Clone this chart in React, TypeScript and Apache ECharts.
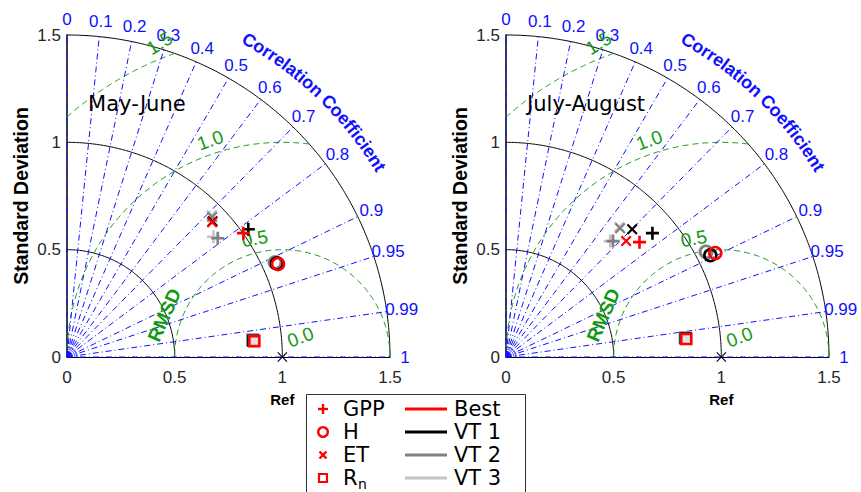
import React, { useEffect, useRef } from "react";
import * as echarts from "echarts";

// ---------- data ----------
const CORR_VALUES = [0, 0.1, 0.2, 0.3, 0.4, 0.5, 0.6, 0.7, 0.8, 0.9, 0.95, 0.99, 1];
const CORR_LABELS = ["0", "0.1", "0.2", "0.3", "0.4", "0.5", "0.6", "0.7", "0.8", "0.9", "0.95", "0.99", "1"];
const STD_ARC_RADII = [0.5, 1, 1.5];
const RMSD_RADII = [0.5, 1.0, 1.5];
const RMSD_LABELS = ["0.0", "0.5", "1.0", "1.5"];
const AXIS_MAX = 1.5;
const AXIS_INTERVAL = 0.5;
const VERSIONS = ["Best", "VT 1", "VT 2", "VT 3"];
const VERSION_COLORS = ["#ff0000", "#000000", "#808080", "#c4c4c4"];
const VARIABLES = ["GPP", "H", "ET", "Rn"];
const PANEL_TITLES = ["May-June", "July-August"];

// [x, y] positions (normalised std * corr, normalised std * sin), order: Best, VT 1, VT 2, VT 3
const MJ_GPP = [[0.819, 0.577], [0.842, 0.595], [0.700, 0.553], [0.680, 0.560]];
const MJ_H = [[0.980, 0.433], [0.975, 0.436], [0.967, 0.440], [0.964, 0.441]];
const MJ_ET = [[0.674, 0.628], [0.676, 0.632], [0.674, 0.652], [0.672, 0.660]];
const MJ_RN = [[0.870, 0.074], [0.866, 0.076], [0.862, 0.080], [0.860, 0.081]];
const JA_GPP = [[0.620, 0.535], [0.680, 0.577], [0.497, 0.540], [0.484, 0.540]];
const JA_H = [[0.972, 0.484], [0.949, 0.474], [0.930, 0.490], [0.926, 0.490]];
const JA_ET = [[0.558, 0.540], [0.586, 0.595], [0.530, 0.600], [0.526, 0.606]];
const JA_RN = [[0.837, 0.084], [0.835, 0.086], [0.832, 0.090], [0.830, 0.091]];

const PANEL_DATA = [
  [MJ_GPP, MJ_H, MJ_ET, MJ_RN],
  [JA_GPP, JA_H, JA_ET, JA_RN],
];

// ---------- style ----------
const BLUE = "#1010ff";
const GREEN = "#119911";
const TICK_FONT = "Liberation Sans";
const LEG_FONT = "DejaVu Sans";
const PLUS = "path://M4,0H6V4H10V6H6V10H4V6H0V4H4Z";
const CROSS = "path://M1.4,0L5,3.6L8.6,0L10,1.4L6.4,5L10,8.6L8.6,10L5,6.4L1.4,10L0,8.6L3.6,5L0,1.4Z";
const THIN_CROSS = "path://M0.8,0L5,4.2L9.2,0L10,0.8L5.8,5L10,9.2L9.2,10L5,5.8L0.8,10L0,9.2L4.2,5L0,0.8Z";
const GRID_LEFTS = [67, 506];
const GRID_TOP = 35;
const GRID_W = 323;
const GRID_H = 322;

function arcPts(cx: number, cy: number, R: number, a0: number, a1: number, n = 240) {
  const pts: number[][] = [];
  for (let i = 0; i <= n; i++) {
    const a = a0 + ((a1 - a0) * i) / n;
    pts.push([cx + R * Math.cos(a), cy + R * Math.sin(a)]);
  }
  return pts;
}

function measure(text: string, font: string) {
  const ctx = document.createElement("canvas").getContext("2d");
  if (!ctx) return text.length * 10;
  ctx.font = font;
  return ctx.measureText(text).width;
}

function lineSeries(idx: number, data: number[][], color: string, type: any, width = 1) {
  return {
    type: "line",
    xAxisIndex: idx,
    yAxisIndex: idx,
    data,
    symbol: "none",
    silent: true,
    clip: false,
    lineStyle: { color, width, type, opacity: 1 },
    z: 2,
  };
}

function textItem(pos: number[], text: string, style: any) {
  return {
    value: pos,
    label: { show: true, position: "inside", formatter: text, opacity: 1, ...style },
  };
}

function buildPanel(idx: number) {
  const series: any[] = [];
  STD_ARC_RADII.forEach((r) => series.push(lineSeries(idx, arcPts(0, 0, r, 0, Math.PI / 2), "#000", "solid", 1)));
  [0.012, 0.024, 0.036, 0.048].forEach((r) => series.push(lineSeries(idx, arcPts(0, 0, r, 0, Math.PI / 2, 30), BLUE, "solid", 0.8)));
  RMSD_RADII.forEach((R) => {
    const cMin = Math.max(-1, (AXIS_MAX * AXIS_MAX - 1 - R * R) / (2 * R));
    const phiStart = Math.acos(Math.min(1, cMin));
    const phiEnd = Math.acos(Math.max(-1, -1 / R));
    series.push(lineSeries(idx, arcPts(1, 0, R, phiStart, phiEnd), GREEN, [6, 4], 1));
  });
  CORR_VALUES.forEach((c) => {
    const a = Math.acos(c);
    series.push(lineSeries(idx, [[0, 0], [AXIS_MAX * Math.cos(a), AXIS_MAX * Math.sin(a)]], BLUE, [6, 3, 1, 3], 1));
  });

  const texts: any[] = [];
  CORR_VALUES.forEach((c, i) => {
    const a = Math.acos(c);
    texts.push(textItem([1.57 * Math.cos(a), 1.57 * Math.sin(a)], CORR_LABELS[i], { color: BLUE, fontSize: 17, fontFamily: TICK_FONT }));
  });
  const rmsdPos = [[1.084, 0.093], [0.872, 0.552], [0.665, 1.01], [0.43, 1.462]];
  const rmsdRot = [20, 10, 20, 32];
  RMSD_LABELS.forEach((t, i) =>
    texts.push(textItem(rmsdPos[i], t, { color: GREEN, fontSize: 19, fontFamily: TICK_FONT, rotate: rmsdRot[i] }))
  );
  texts.push(textItem([0.452, 0.195], "RMSD", { color: GREEN, fontSize: 19, fontWeight: "bold", fontFamily: TICK_FONT, rotate: 66 }));
  texts.push(textItem([1, -0.2], "Ref", { color: "#000", fontSize: 15, fontWeight: "bold", fontFamily: TICK_FONT }));
  texts.push(textItem([0.098, 1.18], PANEL_TITLES[idx], { color: "#000", fontSize: 21, fontFamily: LEG_FONT, align: "left" }));

  const curved = "Correlation Coefficient";
  const font = `bold 18px "${TICK_FONT}"`;
  const widths = curved.split("").map((ch) => measure(ch, font));
  const total = widths.reduce((s, w) => s + w, 0);
  const Rd = 1.7;
  const Rpx = Rd * (GRID_W / AXIS_MAX);
  const theta0 = (46 * Math.PI) / 180 + total / 2 / Rpx;
  let cum = 0;
  curved.split("").forEach((ch, i) => {
    const s = cum + widths[i] / 2;
    cum += widths[i];
    if (ch === " ") return;
    const th = theta0 - s / Rpx;
    texts.push(
      textItem([Rd * Math.cos(th), Rd * Math.sin(th)], ch, {
        color: BLUE,
        fontSize: 18,
        fontWeight: "bold",
        fontFamily: TICK_FONT,
        rotate: (th * 180) / Math.PI - 90,
      })
    );
  });

  series.push({
    type: "scatter",
    xAxisIndex: idx,
    yAxisIndex: idx,
    symbolSize: 0,
    itemStyle: { color: "rgba(0,0,0,0)", opacity: 1 },
    silent: true,
    clip: false,
    data: texts,
    z: 3,
  });

  series.push({
    type: "scatter",
    xAxisIndex: idx,
    yAxisIndex: idx,
    symbol: THIN_CROSS,
    symbolSize: 10,
    itemStyle: { color: "#000", opacity: 1 },
    clip: false,
    data: [[1, 0]],
    z: 5,
  });

  const vars = PANEL_DATA[idx];
  for (let v = VERSIONS.length - 1; v >= 0; v--) {
    const col = VERSION_COLORS[v];
    VARIABLES.forEach((name, k) => {
      const pt = vars[k][v];
      let s: any;
      if (name === "GPP") s = { symbol: PLUS, symbolSize: 13, itemStyle: { color: col, opacity: 1 } };
      else if (name === "ET") s = { symbol: CROSS, symbolSize: 11, itemStyle: { color: col, opacity: 1 } };
      else if (name === "H")
        s = { symbol: "circle", symbolSize: 12, itemStyle: { color: "rgba(255,255,255,0)", borderColor: col, borderWidth: 2.6, opacity: 1 } };
      else s = { symbol: "rect", symbolSize: 10, itemStyle: { color: "rgba(225,225,225,1)", borderColor: col, borderWidth: 2.6, opacity: 1 } };
      series.push({
        type: "scatter",
        name: `${name} ${VERSIONS[v]}`,
        xAxisIndex: idx,
        yAxisIndex: idx,
        clip: false,
        data: [pt],
        z: 10 + (VERSIONS.length - v),
        ...s,
      });
    });
  }
  return series;
}

function legendGraphic() {
  const els: any[] = [];
  const x0 = 306.5, y0 = 394.5;
  els.push({ type: "rect", shape: { x: x0, y: y0, width: 219, height: 110 }, style: { fill: "#fff", stroke: "#333", lineWidth: 1 }, z: 50 });
  const rows = [409, 432, 455, 478];
  const mx = 323;
  const red = "#ff0000";
  els.push({ type: "rect", shape: { x: mx - 5, y: rows[0] - 1.2, width: 10, height: 2.4 }, style: { fill: red }, z: 51 });
  els.push({ type: "rect", shape: { x: mx - 1.2, y: rows[0] - 5, width: 2.4, height: 10 }, style: { fill: red }, z: 51 });
  els.push({ type: "circle", shape: { cx: mx, cy: rows[1], r: 4.8 }, style: { fill: "none", stroke: red, lineWidth: 2.4 }, z: 51 });
  els.push({ type: "line", shape: { x1: mx - 3.5, y1: rows[2] - 3.5, x2: mx + 3.5, y2: rows[2] + 3.5 }, style: { stroke: red, lineWidth: 2.4 }, z: 51 });
  els.push({ type: "line", shape: { x1: mx - 3.5, y1: rows[2] + 3.5, x2: mx + 3.5, y2: rows[2] - 3.5 }, style: { stroke: red, lineWidth: 2.4 }, z: 51 });
  els.push({ type: "rect", shape: { x: mx - 4, y: rows[3] - 4, width: 8, height: 8 }, style: { fill: "none", stroke: red, lineWidth: 2.2 }, z: 51 });
  const tstyle = { fill: "#000", fontSize: 21, fontFamily: LEG_FONT, verticalAlign: "middle", align: "left" };
  ["GPP", "H", "ET"].forEach((t, i) => els.push({ type: "text", x: 343, y: rows[i], style: { text: t, ...tstyle }, z: 51 }));
  els.push({ type: "text", x: 343, y: rows[3], style: { text: "R", ...tstyle }, z: 51 });
  els.push({ type: "text", x: 358, y: rows[3] + 6, style: { text: "n", ...tstyle, fontSize: 14 }, z: 51 });
  VERSIONS.forEach((name, i) => {
    els.push({ type: "line", shape: { x1: 405, y1: rows[i], x2: 447, y2: rows[i] }, style: { stroke: VERSION_COLORS[i], lineWidth: 3 }, z: 51 });
    els.push({ type: "text", x: 454, y: rows[i], style: { text: name, ...tstyle }, z: 51 });
  });
  return els;
}

export default function App() {
  const ref = useRef<HTMLDivElement>(null);
  useEffect(() => {
    if (!ref.current) return;
    const chart = echarts.init(ref.current, null, { renderer: "svg" });
    const grids = GRID_LEFTS.map((l) => ({ left: l, top: GRID_TOP, width: GRID_W, height: GRID_H }));
    const axisLabel = { color: "#262626", fontSize: 17, fontFamily: TICK_FONT };
    const xAxes = GRID_LEFTS.map((_, i) => ({
      type: "value",
      gridIndex: i,
      min: 0,
      max: AXIS_MAX,
      interval: AXIS_INTERVAL,
      axisLine: { show: true, lineStyle: { color: "#000", width: 1 } },
      axisTick: { show: false },
      splitLine: { show: false },
      axisLabel: { ...axisLabel, margin: 12 },
    }));
    const yAxes = GRID_LEFTS.map((_, i) => ({
      type: "value",
      gridIndex: i,
      min: 0,
      max: AXIS_MAX,
      interval: AXIS_INTERVAL,
      axisLine: { show: true, lineStyle: { color: "#000", width: 1.5 } },
      axisTick: { show: false },
      splitLine: { show: false },
      axisLabel: { ...axisLabel, margin: 6 },
      name: "Standard Deviation",
      nameLocation: "middle",
      nameGap: 36,
      nameRotate: 90,
      nameTextStyle: { color: "#000", fontSize: 19.5, fontWeight: "bold", fontFamily: TICK_FONT },
    }));
    chart.setOption({
      animation: false,
      backgroundColor: "#fff",
      grid: grids,
      xAxis: xAxes,
      yAxis: yAxes,
      series: [...buildPanel(0), ...buildPanel(1)],
      graphic: legendGraphic(),
    });
    return () => chart.dispose();
  }, []);
  return <div ref={ref} style={{ position: "absolute", left: 0, top: 0, width: 861, height: 492 }} />;
}
